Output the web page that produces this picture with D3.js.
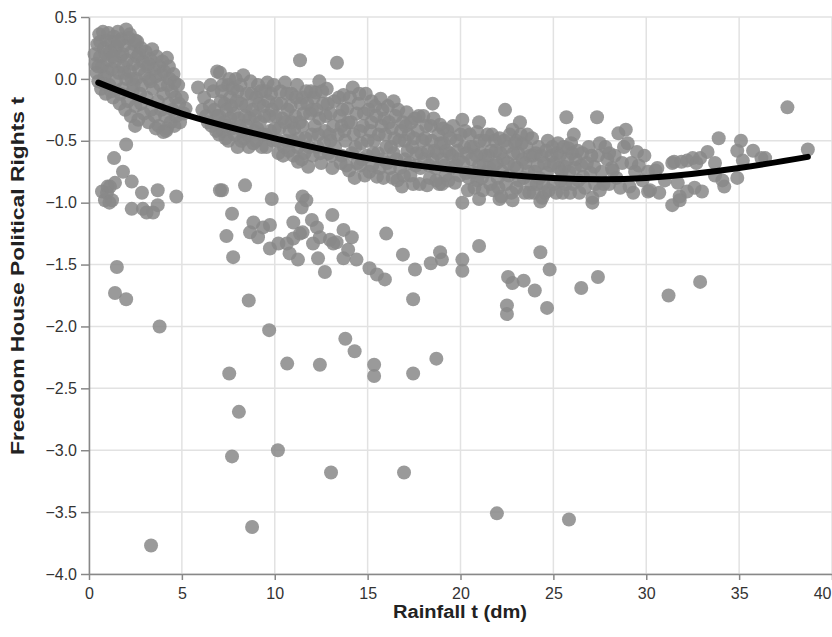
<!DOCTYPE html>
<html>
<head>
<meta charset="UTF-8">
<title>Rainfall vs Political Rights</title>
<script src="https://d3js.org/d3.v7.min.js"></script>
<style>
  body { margin: 0; background: #fff; }
  svg { display: block; font-family: "Liberation Sans", Arial, sans-serif; }
  .grid line { stroke: #e2e2e2; stroke-width: 1.5; }
  .axis text { font-size: 16px; fill: #333; }
  .axis path, .axis line { stroke: #888; stroke-width: 1.5; }
  .title { font-size: 18px; font-weight: bold; fill: #222; }
</style>
</head>
<body>
<svg id="chart" width="832" height="637"></svg>
<script>
// axis ticks
const xTicks = [0, 5, 10, 15, 20, 25, 30, 35, 40];
const yTicks = [0.5, 0.0, -0.5, -1.0, -1.5, -2.0, -2.5, -3.0, -3.5, -4.0];

// dense band of country-years [rainfall, political rights]
const bandPoints = [
  [0.3,0.2],[0.35,0.12],[0.4,0.05],[0.45,0.28],[0.5,-0.02],[0.55,0.36],[0.6,0.18],[0.65,-0.08],[0.7,0.1],[0.75,0.38],
  [0.8,0.25],[0.85,0.02],[0.9,-0.12],[0.95,0.31],[1.0,0.15],[0.6,0.3],[0.8,-0.04],[1.0,0.06],[0.5,0.1],[0.9,0.2],
  [1.05,0.37],[1.1,-0.05],[1.15,0.22],[1.2,0.3],[1.25,0.08],[1.3,-0.15],[1.35,0.34],[1.4,0.14],[1.45,-0.02],[1.5,0.26],
  [1.55,0.38],[1.6,0.05],[1.65,-0.2],[1.7,0.18],[1.75,0.32],[1.8,-0.08],[1.85,0.1],[1.9,0.27],[1.95,-0.25],[2.0,0.4],
  [1.2,-0.1],[1.4,0.24],[1.6,0.3],[1.8,0.2],[2.0,0.0],[1.3,0.18],[1.7,-0.12],[1.9,0.05],
  [2.05,0.15],[2.1,-0.18],[2.15,0.33],[2.2,0.06],[2.25,-0.3],[2.3,0.22],[2.35,-0.1],[2.4,0.12],[2.45,0.28],[2.5,-0.22],
  [2.55,0.0],[2.6,0.18],[2.65,-0.33],[2.7,0.08],[2.75,-0.12],[2.8,0.25],[2.85,-0.05],[2.9,0.14],[2.95,-0.28],[3.0,0.04],
  [2.2,0.36],[2.4,-0.05],[2.6,0.3],[2.8,-0.2],[2.3,0.0],[2.7,0.2],[2.48,-0.38],[2.5,0.31],
  [3.05,0.22],[3.1,-0.15],[3.15,0.1],[3.2,-0.35],[3.25,0.0],[3.3,0.16],[3.35,-0.25],[3.4,0.24],[3.45,-0.08],[3.5,0.08],
  [3.55,-0.3],[3.6,0.02],[3.65,0.18],[3.7,-0.18],[3.75,-0.38],[3.8,0.1],[3.85,-0.05],[3.9,-0.25],[3.95,0.14],[4.0,-0.12],
  [3.3,-0.02],[3.6,-0.4],[3.9,0.04],[3.2,0.12],
  [4.05,0.06],[4.1,-0.3],[4.15,-0.42],[4.2,0.17],[4.25,-0.05],[4.3,-0.2],[4.35,0.0],[4.4,-0.35],[4.45,-0.1],[4.5,-0.25],
  [4.55,0.04],[4.6,-0.38],[4.65,-0.15],[4.7,-0.3],[4.8,-0.05],[4.85,-0.2],[4.9,-0.35],[5.0,-0.15],[5.1,-0.28],[5.2,-0.24],
  [4.3,0.1],[4.6,-0.03],[4.2,-0.4],[4.0,-0.43],
  [5.87,-0.07],[6.2,-0.15],[6.3,-0.3],[6.5,-0.22],[6.6,-0.38],[6.7,-0.1],[6.9,0.06],[6.9,-0.3],[7.0,-0.45],[7.05,0.05],
  [7.1,-0.18],[7.2,-0.05],[7.3,-0.35],[7.4,-0.25],[7.5,-0.05],[7.5,-0.5],[7.6,-0.15],[7.7,-0.4],[7.8,-0.28],[7.9,0.0],
  [8.0,-0.1],[8.0,-0.55],[7.2,-0.42],[7.6,-0.32],
  [8.1,-0.38],[8.2,-0.2],[8.3,0.03],[8.35,-0.48],[8.4,-0.3],[8.5,-0.12],[8.6,-0.55],[8.7,-0.02],[8.8,-0.25],[8.9,-0.42],
  [9.0,-0.15],[9.1,-0.05],[9.2,-0.35],[9.3,-0.55],[9.4,-0.22],[9.5,-0.45],[9.6,-0.03],[9.7,-0.3],[9.8,-0.12],[9.9,-0.5],
  [10.0,-0.4],[8.5,-0.38],[9.0,-0.5],[9.5,-0.1],[8.2,-0.5],
  [10.1,-0.2],[10.2,-0.6],[10.3,-0.1],[10.4,-0.32],[10.55,-0.03],[10.6,-0.5],[10.7,-0.25],[10.8,-0.42],[10.9,-0.12],[11.0,-0.62],
  [11.1,-0.3],[11.2,-0.05],[11.3,-0.48],[11.36,0.15],[11.4,-0.2],[11.5,-0.38],[11.6,-0.6],[11.7,-0.1],[11.8,-0.71],[11.9,-0.28],
  [12.0,-0.45],[11.25,-0.67],[10.5,-0.55],[10.9,-0.35],[11.5,-0.15],
  [12.1,-0.15],[12.2,-0.11],[12.3,-0.55],[12.4,-0.32],[12.5,-0.68],[12.6,-0.2],[12.7,-0.42],[12.8,-0.08],[12.9,-0.6],[13.0,-0.28],
  [13.1,-0.72],[13.2,-0.18],[13.35,0.13],[13.4,-0.45],[13.5,-0.3],[13.6,-0.62],[13.7,-0.13],[13.8,-0.5],[13.9,-0.24],[14.0,-0.74],
  [12.4,-0.02],[13.0,-0.5],[13.6,-0.38],[12.0,-0.25],
  [14.1,-0.35],[14.2,-0.07],[14.3,-0.8],[14.35,-0.55],[14.5,-0.2],[14.6,-0.42],[14.7,-0.65],[14.8,-0.28],[14.9,-0.12],[15.0,-0.5],
  [15.1,-0.75],[15.2,-0.35],[15.3,-0.6],[15.4,-0.22],[15.5,-0.79],[15.6,-0.45],[15.7,-0.16],[15.8,-0.65],[15.9,-0.32],[16.0,-0.55],
  [14.6,-0.7],[15.2,-0.18],[15.8,-0.25],
  [16.1,-0.22],[16.2,-0.72],[16.3,-0.4],[16.4,-0.6],[16.5,-0.3],[16.6,-0.82],[16.7,-0.5],[16.85,-0.87],[16.9,-0.35],[17.0,-0.65],
  [17.1,-0.27],[17.2,-0.45],[17.3,-0.78],[17.4,-0.55],[17.55,-0.32],[17.6,-0.7],[17.7,-0.42],[17.8,-0.85],[17.9,-0.6],[18.0,-0.3],
  [16.4,-0.18],[17.0,-0.5],[18.2,-0.86],
  [18.1,-0.48],[18.3,-0.7],[18.4,-0.38],[18.5,-0.2],[18.6,-0.58],[18.7,-0.82],[18.8,-0.45],[18.9,-0.37],[19.0,-0.65],[19.1,-0.52],
  [19.2,-0.78],[19.3,-0.42],[19.4,-0.6],[19.5,-0.72],[19.7,-0.84],[19.8,-0.5],[19.9,-0.65],[20.1,-0.33],[20.2,-0.55],[20.3,-0.76],
  [20.4,-0.9],[19.0,-0.85],[18.5,-0.65],
  [20.5,-0.45],[20.6,-0.65],[20.7,-0.55],[20.9,-0.43],[20.9,-0.82],[21.0,-0.7],[21.1,-0.6],[21.2,-0.9],[21.3,-0.5],[21.4,-0.75],
  [21.5,-0.62],[21.6,-0.85],[21.7,-0.45],[21.8,-0.7],[21.9,-0.58],[22.0,-0.8],[22.2,-0.95],[22.4,-0.25],[22.1,-0.48],[21.0,-0.35],
  [22.3,-0.65],[22.5,-0.55],[22.6,-0.78],[22.8,-0.41],[22.9,-0.7],[23.0,-0.88],[23.1,-0.6],[23.2,-0.35],[23.3,-0.52],[23.4,-0.8],
  [23.5,-0.68],[23.6,-0.45],[23.7,-0.92],[23.85,-0.48],[23.9,-0.62],[24.0,-0.75],[24.1,-0.85],[24.2,-0.55],[24.4,-0.96],[23.0,-0.5],
  [24.5,-0.68],[24.55,-0.92],[24.65,-0.76],[24.7,-0.5],[24.9,-0.62],[25.0,-0.85],[25.2,-0.6],[25.3,-0.72],[25.5,-0.92],[25.6,-0.71],
  [25.7,-0.31],[25.8,-0.56],[25.9,-0.92],[26.1,-0.45],[26.2,-0.65],[26.4,-0.92],[26.6,-0.79],[25.4,-0.82],[26.0,-0.6],
  [26.9,-0.55],[27.0,-0.76],[27.1,-0.96],[27.2,-0.71],[27.35,-0.31],[27.5,-0.52],[27.7,-0.85],[27.9,-0.65],[28.15,-0.72],[28.2,-0.74],
  [28.5,-0.44],[28.6,-0.88],[28.9,-0.41],[29.0,-0.52],[29.1,-0.87],[29.2,-0.68],[29.4,-0.75],[29.5,-0.59],[29.8,-0.82],[30.1,-0.91],
  [30.2,-0.9],[26.5,-0.7],[27.5,-0.9],[28.0,-0.6]
];

// extra points filling the crowded middle of the band
const bandFill = [
  [6.1,-0.25],[6.4,-0.35],[6.55,-0.05],[6.75,-0.25],[6.85,-0.42],[7.0,-0.3],[7.15,-0.1],[7.3,-0.2],[7.35,-0.48],[7.45,-0.38],
  [7.55,0.0],[7.65,-0.22],[7.75,-0.08],[7.85,-0.45],[7.95,-0.18],[8.05,-0.32],[8.15,-0.05],[8.25,-0.42],[8.45,-0.22],[8.55,-0.45],
  [8.65,-0.32],[8.75,-0.12],[8.85,-0.52],[8.95,-0.3],[9.05,-0.4],[9.15,-0.2],[9.25,-0.1],[9.35,-0.45],[9.45,-0.3],[9.55,-0.55],
  [9.65,-0.18],[9.75,-0.42],[9.85,-0.25],[9.95,-0.05],[10.05,-0.3],[10.15,-0.5],[10.25,-0.4],[10.35,-0.2],[10.45,-0.62],[10.55,-0.35],
  [10.65,-0.12],[10.75,-0.58],[10.85,-0.22],[10.95,-0.5],[11.05,-0.4],[11.15,-0.15],[11.25,-0.55],[11.35,-0.35],[11.45,-0.65],[11.55,-0.28],
  [11.65,-0.48],[11.75,-0.2],[11.85,-0.55],[11.95,-0.1],[12.05,-0.62],[12.15,-0.38],[12.25,-0.25],[12.35,-0.45],[12.45,-0.6],[12.55,-0.1],
  [12.65,-0.52],[12.75,-0.3],[12.85,-0.2],[12.95,-0.45],[13.05,-0.62],[13.15,-0.38],[13.25,-0.55],[13.45,-0.15],[13.55,-0.68],[13.65,-0.25],
  [13.75,-0.42],[13.85,-0.7],[13.95,-0.35],[14.05,-0.15],[14.15,-0.6],[14.25,-0.45],[14.4,-0.28],[14.45,-0.68],[14.55,-0.12],[14.65,-0.52],
  [14.75,-0.38],[14.85,-0.78],[14.95,-0.62],[15.05,-0.25],[15.15,-0.42],[15.25,-0.7],[15.35,-0.5],[15.45,-0.3],[15.55,-0.6],[15.65,-0.72],
  [15.75,-0.38],[15.85,-0.8],[15.95,-0.45],[16.05,-0.68],[16.15,-0.35],[16.25,-0.55],[16.35,-0.8],[16.45,-0.48],[16.55,-0.65],[16.65,-0.25],
  [16.75,-0.72],[16.8,-0.42],[16.95,-0.78],[17.05,-0.38],[17.15,-0.58],[17.25,-0.68],[17.35,-0.35],[17.45,-0.85],[17.5,-0.48],[17.65,-0.6],
  [17.75,-0.3],[17.85,-0.72],[17.95,-0.5],[18.05,-0.65],[18.15,-0.38],[18.25,-0.58],[18.35,-0.8],[18.45,-0.5],[18.55,-0.32],[18.65,-0.72],
  [18.75,-0.6],[18.85,-0.85],[18.95,-0.52],[19.05,-0.4],[19.15,-0.7],[19.25,-0.58],[19.35,-0.82],[19.45,-0.48],[19.55,-0.62],[19.6,-0.38],
  [19.75,-0.7],[19.85,-0.58],[19.95,-0.78],[20.0,-0.45],[20.15,-0.68],[20.25,-0.42],[20.35,-0.6],[20.45,-0.8],[20.55,-0.55],[20.65,-0.75],
  [20.75,-0.88],[20.85,-0.62],[21.05,-0.5],[21.15,-0.8],[21.25,-0.7],[21.35,-0.62],[21.45,-0.45],[21.55,-0.72],[21.65,-0.58],[21.75,-0.9],
  [21.85,-0.5],[21.95,-0.68],[22.05,-0.88],[22.15,-0.6],[22.25,-0.75],[22.35,-0.5],[22.45,-0.85],[22.55,-0.68],[22.65,-0.45],[22.75,-0.92],
  [22.85,-0.6],[22.95,-0.52],[23.05,-0.72],[23.15,-0.82],[23.25,-0.45],[23.35,-0.65],[23.45,-0.92],[23.55,-0.55],[23.65,-0.75],[23.75,-0.62],
  [23.8,-0.85],[23.95,-0.92],[24.05,-0.6],[24.15,-0.7],[24.25,-0.8],[24.35,-0.62],[24.45,-0.85],[24.6,-0.58],[24.75,-0.9],[24.85,-0.7],
  [24.95,-0.55],[25.05,-0.68],[25.15,-0.92],[25.25,-0.52],[25.35,-0.62],[25.45,-0.75],[25.55,-0.55],[25.65,-0.85],[25.75,-0.65],[25.85,-0.75],
  [25.95,-0.52],[26.05,-0.85],[26.15,-0.72],[26.3,-0.58],[26.35,-0.82],[26.55,-0.6],[26.7,-0.88],[26.8,-0.68],[27.05,-0.62],[27.25,-0.85],
  [27.4,-0.62],[27.6,-0.75],[27.8,-0.55],[28.0,-0.85],[28.3,-0.62],[28.4,-0.8],[28.7,-0.68],[28.8,-0.55],[29.3,-0.92],[29.6,-0.7],
  [29.9,-0.62]
];

// sparse wet end of the band
const wetPoints = [
  [30.1,-0.75],[30.5,-0.74],[30.6,-0.72],[30.7,-0.92],[31.0,-0.82],[31.4,-0.68],[31.4,-1.02],[31.5,-0.67],[31.7,-0.84],[31.8,-0.95],
  [31.9,-0.67],[32.2,-0.66],[32.2,-0.91],[32.5,-0.64],[32.6,-0.88],[32.7,-0.68],[32.9,-0.64],[33.0,-0.91],[33.3,-0.59],[33.7,-0.68],
  [33.7,-0.78],[33.9,-0.48],[34.1,-0.82],[34.2,-0.87],[34.9,-0.58],[34.9,-0.8],[35.1,-0.5],[35.2,-0.66],[35.75,-0.58],[36.2,-0.64],
  [36.4,-0.64],[37.6,-0.23],[38.7,-0.57]
];

// points below the band
const lowPoints = [
  [0.7,-0.91],[0.86,-0.98],[0.97,-0.92],[1.0,-0.87],[1.13,-0.87],[1.24,-0.98],[1.1,-1.0],[1.35,-0.64],[1.4,-0.84],
  [1.83,-0.75],[2.0,-0.53],[2.3,-0.83],[2.3,-1.05],[2.85,-0.92],[2.9,-1.05],[3.1,-1.08],[3.45,-1.08],[3.7,-1.02],[3.7,-0.9],
  [4.7,-0.95],[1.5,-1.52],[1.4,-1.73],[2.0,-1.78],[3.8,-2.0],[3.34,-3.77],
  [7.05,-0.9],[7.16,-0.9],[8.4,-0.86],[7.4,-1.27],[7.7,-1.09],[7.76,-1.44],[8.6,-1.79],[7.55,-2.38],[8.07,-2.69],[7.7,-3.05],
  [8.78,-3.62],[10.17,-3.0],[8.67,-1.24],[8.85,-1.16],[9.1,-1.28],[9.37,-1.2],[9.74,-1.18],[9.74,-1.37],[9.7,-2.03],[9.84,-0.97],
  [10.67,-2.3],[11.45,-1.04],[11.5,-0.95],[11.7,-0.98],[11.0,-1.16],[10.2,-1.33],[10.65,-1.33],[10.8,-1.41],[11.0,-1.29],[11.36,-1.25],
  [11.5,-1.24],[11.25,-1.46],[12.0,-1.14],[12.06,-1.33],[12.27,-1.2],[12.33,-1.45],[12.43,-1.28],[12.7,-1.56],[12.97,-1.3],[13.15,-1.33],
  [13.1,-1.1],[13.33,-1.32],[13.7,-1.22],[13.7,-1.45],[14.15,-1.28],[13.95,-1.38],[14.4,-1.46],[12.43,-2.31],[13.8,-2.1],[14.3,-2.2],
  [13.03,-3.18],[15.1,-1.53],[15.5,-1.58],[15.93,-1.62],[16.0,-1.25],[15.35,-2.31],[15.35,-2.4],[16.9,-1.42],[17.55,-1.54],[17.45,-1.78],
  [17.45,-2.38],[16.96,-3.18],[18.4,-1.49],[18.9,-1.4],[19.0,-1.46],[20.1,-1.46],[20.1,-1.55],[21.0,-1.35],[18.7,-2.26],[24.3,-1.4],
  [24.8,-1.54],[22.56,-1.6],[22.8,-1.65],[23.4,-1.63],[24.0,-1.71],[22.5,-1.83],[22.5,-1.9],[24.66,-1.85],[26.5,-1.69],[27.4,-1.6],
  [31.2,-1.75],[32.9,-1.64],[21.96,-3.51],[25.84,-3.56],[31.8,-0.98],
  [20.1,-1.0],[21.0,-0.97],[22.1,-0.97],[22.8,-0.98],[24.3,-0.99],[27.1,-1.0]
];

// fitted quadratic
const fitX = [0.5, 5, 10, 15, 20, 25, 30, 35, 38.7];
const fitY = [-0.03, -0.28, -0.48, -0.64, -0.74, -0.80, -0.80, -0.72, -0.63];

const svg = d3.select("#chart");
const margin = {top: 17, right: 0, bottom: 63, left: 89};
const W = 832, H = 637;
const innerW = W - margin.left - margin.right;
const innerH = H - margin.top - margin.bottom;

const x = d3.scaleLinear().domain([0, 40]).range([0, innerW]);
const y = d3.scaleLinear().domain([-4, 0.5]).range([innerH, 0]);

const g = svg.append("g").attr("transform", `translate(${margin.left},${margin.top})`);

// grid
g.append("g").attr("class", "grid")
  .selectAll("line").data(xTicks).join("line")
  .attr("x1", d => x(d)).attr("x2", d => x(d))
  .attr("y1", 0).attr("y2", innerH);
g.append("g").attr("class", "grid")
  .selectAll("line").data(yTicks).join("line")
  .attr("x1", 0).attr("x2", innerW)
  .attr("y1", d => y(d)).attr("y2", d => y(d));

// points
const allPoints = bandPoints.concat(bandFill, wetPoints, lowPoints);
g.append("g")
  .selectAll("circle").data(allPoints).join("circle")
  .attr("cx", d => x(d[0]))
  .attr("cy", d => y(d[1]))
  .attr("r", 7)
  .attr("fill", "#888")
  .attr("fill-opacity", 0.85);

// fit line
const line = d3.line()
  .x(d => x(d[0]))
  .y(d => y(d[1]))
  .curve(d3.curveNatural);
g.append("path")
  .datum(fitX.map((v, i) => [v, fitY[i]]))
  .attr("d", line)
  .attr("fill", "none")
  .attr("stroke", "#000")
  .attr("stroke-width", 6)
  .attr("stroke-linecap", "round");

// axes
const xAxis = g.append("g").attr("class", "axis")
  .attr("transform", `translate(0,${innerH})`)
  .call(d3.axisBottom(x).tickValues(xTicks).tickSize(6).tickPadding(8).tickSizeOuter(0));
// last label sits against the right edge
xAxis.selectAll(".tick").filter(d => d === 40).select("text")
  .attr("text-anchor", "end").attr("dx", -1);

g.append("g").attr("class", "axis")
  .call(d3.axisLeft(y).tickValues(yTicks).tickFormat(d3.format(".1f")).tickSize(8).tickPadding(4).tickSizeOuter(0));

// titles
svg.append("text").attr("class", "title")
  .attr("x", 460).attr("y", 618)
  .attr("text-anchor", "middle")
  .attr("textLength", 134).attr("lengthAdjust", "spacingAndGlyphs")
  .text("Rainfall t (dm)");
svg.append("text").attr("class", "title")
  .attr("transform", "translate(24,276) rotate(-90)")
  .attr("text-anchor", "middle")
  .attr("textLength", 358).attr("lengthAdjust", "spacingAndGlyphs")
  .text("Freedom House Political Rights t");
</script>
</body>
</html>
